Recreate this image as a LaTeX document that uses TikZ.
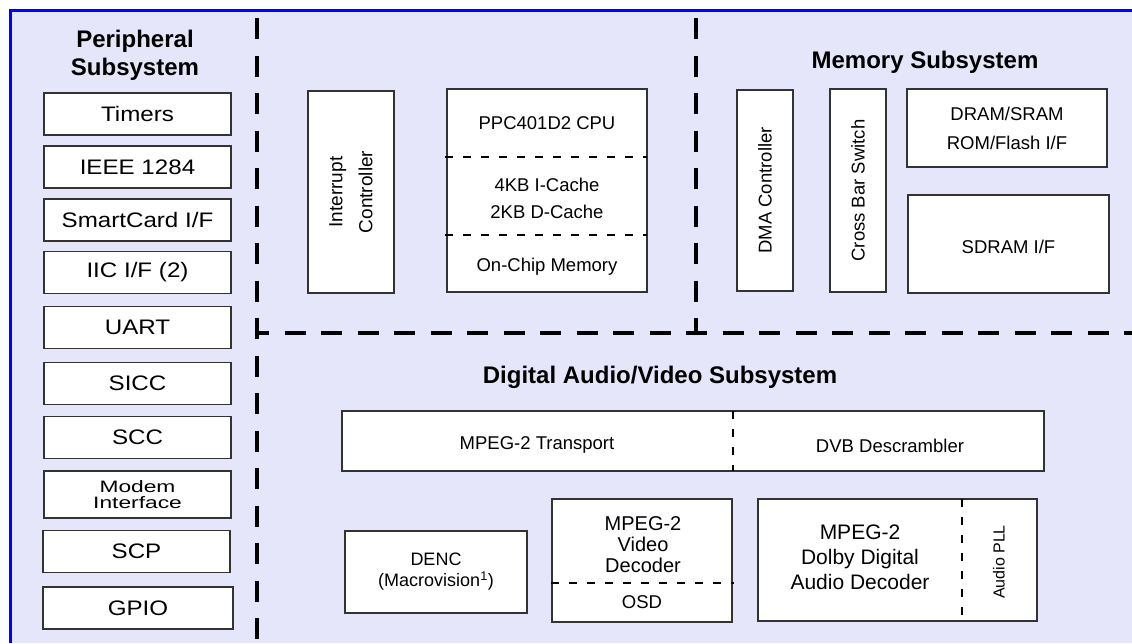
\documentclass[tikz,border=0pt]{standalone}
\usepackage{fontspec}
\setmainfont{Liberation Sans}
\newfontfamily\widefont{Liberation Sans}[FakeStretch=1.15]
\newfontfamily\xwidefont{Liberation Sans}[FakeStretch=1.38]
\usepackage{tikz}
\definecolor{panelbg}{RGB}{230,230,250}
\definecolor{framblue}{RGB}{0,0,255}
\newcommand{\txtsize}[2]{\fontsize{#1}{#2}\selectfont}

\tikzset{
  block/.style={draw=black!80, fill=white, line width=1.3pt, inner sep=0pt,
    align=center, font=\txtsize{18.5}{22}},
  perbox/.style={block, minimum width=187pt, minimum height=42pt,
    font=\widefont\txtsize{21}{24}},
  plain/.style={inner sep=0pt, align=center, font=\txtsize{18.5}{22}},
  title/.style={inner sep=0pt, align=center, font=\bfseries\txtsize{24}{28}},
  section/.style={line width=4pt, dash pattern=on 21pt off 16.5pt},
  split/.style={line width=2.5pt, dash pattern=on 8pt off 10pt},
}

\begin{document}
\begin{tikzpicture}[x=1pt,y=-1pt]
  \useasboundingbox (0,0) rectangle (1132,643);
  \fill[panelbg] (10,10) rectangle (1132,643);
  \draw[framblue, line width=3pt] (10,643) -- (10,10) -- (1132,10);

  % subsystem borders
  \draw[section] (257,18) -- (257,643);
  \draw[section] (696,18) -- (696,333);
  \draw[section, dash pattern=on 21pt off 15.5pt, dash phase=9pt] (257,333) -- (1132,333);

  % peripheral subsystem
  \node[title] (pertitle) at (135,55) {Peripheral\\Subsystem};
  \node[perbox] (timers) at (137.5,114) {Timers};
  \node[perbox] (ieee) at (137.5,167) {IEEE 1284};
  \node[perbox] (smartcard) at (137.5,220) {SmartCard I/F};
  \node[perbox] (iic) at (137.5,272.5) {IIC I/F (2)};
  \node[perbox] (uart) at (137.5,327.5) {UART};
  \node[perbox] (sicc) at (137.5,383.5) {SICC};
  \node[perbox] (scc) at (137.5,437.5) {SCC};
  \node[perbox, minimum height=47pt, font=\xwidefont\txtsize{16.5}{16}] (modem) at (137.5,494.5) {Modem\\Interface};
  \node[perbox] (scp) at (136.5,551.5) {SCP};
  \node[perbox, minimum width=190pt, line width=2.4pt] (gpio) at (138,608) {GPIO};

  % processor core
  \node[block, rotate=90, minimum width=202pt, minimum height=86pt,
    font=\txtsize{19}{30}] (intc) at (351,192) {Interrupt\\Controller};
  \node[block, minimum width=200pt, minimum height=203pt] (cpu) at (547,190.5) {};
  \node[plain] (core) at (547,123) {PPC401D2 CPU};
  \node[plain, font=\txtsize{18.5}{27}] (cache) at (547,198) {4KB I-Cache\\2KB D-Cache};
  \node[plain] (ocm) at (547,267) {On-Chip Memory};
  \draw[split] (445,157) -- (647,157);
  \draw[split] (445,235) -- (647,235);

  % memory subsystem
  \node[title] (memtitle) at (925,62) {Memory Subsystem};
  \node[block, rotate=90, minimum width=201pt, minimum height=56pt] (dma) at (765,190.5) {DMA Controller};
  \node[block, rotate=90, minimum width=203pt, minimum height=56pt] (xbar) at (858,190.5) {Cross Bar Switch};
  \node[block, minimum width=200pt, minimum height=78pt, font=\txtsize{18.5}{29}] (dram) at (1007,128) {DRAM/SRAM\\ROM/Flash I/F};
  \node[block, minimum width=201pt, minimum height=98pt] (sdram) at (1008.5,244) {};
  \node[plain] (sdramtxt) at (1008.5,247) {SDRAM I/F};

  % digital audio/video subsystem
  \node[title] (avtitle) at (660,377) {Digital Audio/Video Subsystem};
  \node[block, minimum width=702pt, minimum height=60pt] (ts) at (693,441) {};
  \node[plain] (demux) at (537,445) {MPEG-2 Transport};
  \node[plain] (descr) at (890,446) {DVB Descrambler};
  \draw[split] (733,411) -- (733,471);
  \node[block, minimum width=182pt, minimum height=82pt, font=\txtsize{18}{21}] (denc) at (436,572) {DENC\\(Macrovision\textsuperscript{1})};
  \node[block, minimum width=180pt, minimum height=123pt] (vdec) at (642,560.5) {};
  \node[plain, font=\txtsize{20}{21}] (vdectxt) at (643,545) {MPEG-2\\Video\\Decoder};
  \node[plain] (osd) at (642,602) {OSD};
  \draw[split] (551,583) -- (734,583);
  \node[block, minimum width=279pt, minimum height=122pt] (adec) at (897.5,560) {};
  \node[plain, font=\txtsize{21}{25}] (adectxt) at (860,557) {MPEG-2\\Dolby Digital\\Audio Decoder};
  \node[plain, rotate=90, font=\txtsize{16}{18}] (pll) at (999,562) {Audio PLL};
  \draw[split] (962,499) -- (962,621);
\end{tikzpicture}
\end{document}
